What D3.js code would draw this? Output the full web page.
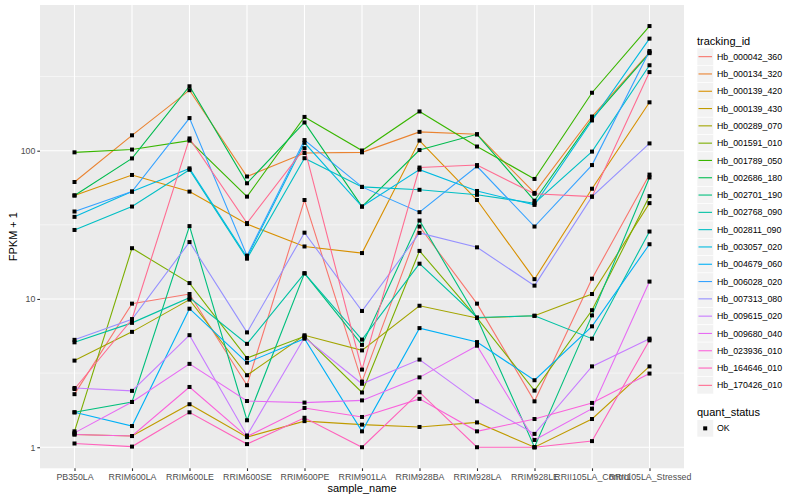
<!DOCTYPE html>
<html>
<head>
<meta charset="utf-8">
<script src="https://cdn.jsdelivr.net/npm/d3@7"></script>
<style>
  body { margin: 0; background: #fff; }
  text { font-family: "Liberation Sans", Arial, Helvetica, sans-serif; }
</style>
</head>
<body>
<svg id="chart" width="800" height="500"></svg>
<script>
// sample names along x
var samples = ['PB350LA', 'RRIM600LA', 'RRIM600LE', 'RRIM600SE', 'RRIM600PE', 'RRIM901LA',
  'RRIM928BA', 'RRIM928LA', 'RRIM928LE', 'RRII105LA_Control', 'RRII105LA_Stressed'];

// FPKM + 1 per gene, one value per sample
var hb_000042_360 = [2.28, 9.3, 10.8, 2.62, 46.5, 2.77, 30.8, 9.3, 2.04, 13.7, 69];
var hb_000134_320 = [61.5, 127, 256, 67, 96.5, 97.5, 134, 129, 51.9, 170, 460];
var hb_000139_420 = [49.9, 68.6, 53, 32, 22.6, 20.4, 117, 46.5, 13.6, 55.4, 212];
var hb_000139_430 = [1.22, 1.19, 1.95, 1.17, 1.5, 1.42, 1.37, 1.47, 1.0, 1.55, 3.51];
var hb_000289_070 = [3.84, 6.0, 9.9, 3.06, 5.69, 4.5, 9.0, 7.45, 7.7, 10.8, 44.3];
var hb_001591_010 = [1.28, 22, 12.8, 4.0, 5.6, 2.34, 21.1, 7.45, 2.41, 8.4, 49.4];
var hb_001789_050 = [97.5, 101.8, 117, 49, 169, 100.3, 184, 106.7, 64.5, 246, 693];
var hb_002686_180 = [49.9, 88.7, 272, 60.3, 155, 42, 101, 129, 46, 164, 455];
var hb_002701_190 = [1.72, 2.02, 31, 1.52, 14.9, 4.9, 33.8, 7.45, 1.0, 7.75, 66];
var hb_002768_090 = [5.1, 6.9, 10.2, 4.98, 14.9, 5.32, 17.3, 7.5, 7.7, 5.4, 28.5];
var hb_002811_090 = [29.2, 42, 74.4, 18.7, 89, 57, 54.5, 50.4, 44.2, 98.6, 377];
var hb_003057_020 = [35.8, 53, 76, 19.1, 113, 42, 74.5, 53.5, 43.1, 160, 570];
var hb_004679_060 = [1.72, 1.39, 8.6, 3.72, 5.4, 1.28, 6.36, 5.12, 2.83, 6.54, 23.4];
var hb_006028_020 = [38.9, 53, 166, 19.6, 118, 57, 38.5, 78.5, 30.8, 80, 470];
var hb_007313_080 = [5.3, 7.3, 24.2, 5.95, 28, 8.3, 27.9, 22.3, 12.3, 49, 112];
var hb_009615_020 = [2.51, 2.4, 5.7, 1.2, 5.5, 2.68, 3.9, 2.04, 1.23, 3.51, 5.4];
var hb_009680_040 = [1.25, 2.02, 3.65, 2.05, 2.0, 2.07, 2.96, 4.84, 1.12, 1.82, 13.1];
var hb_023936_010 = [1.22, 1.19, 2.55, 1.18, 1.84, 1.6, 2.12, 1.28, 1.55, 1.99, 3.14];
var hb_164646_010 = [1.06, 1.01, 1.72, 1.05, 1.58, 1.0, 2.35, 1.0, 1.0, 1.1, 5.26];
var hb_170426_010 = [2.47, 7.3, 121, 32.5, 104, 3.34, 77, 80, 51.2, 49, 339];

var trackingIds = ['Hb_000042_360', 'Hb_000134_320', 'Hb_000139_420', 'Hb_000139_430', 'Hb_000289_070',
  'Hb_001591_010', 'Hb_001789_050', 'Hb_002686_180', 'Hb_002701_190', 'Hb_002768_090',
  'Hb_002811_090', 'Hb_003057_020', 'Hb_004679_060', 'Hb_006028_020', 'Hb_007313_080',
  'Hb_009615_020', 'Hb_009680_040', 'Hb_023936_010', 'Hb_164646_010', 'Hb_170426_010'];

var seriesValues = [hb_000042_360, hb_000134_320, hb_000139_420, hb_000139_430, hb_000289_070,
  hb_001591_010, hb_001789_050, hb_002686_180, hb_002701_190, hb_002768_090,
  hb_002811_090, hb_003057_020, hb_004679_060, hb_006028_020, hb_007313_080,
  hb_009615_020, hb_009680_040, hb_023936_010, hb_164646_010, hb_170426_010];

var yTicks = [1, 10, 100];
var yMinor = [Math.pow(10, 0.5), Math.pow(10, 1.5), Math.pow(10, 2.5)];
var quantStatus = ['OK'];

// ggplot default hue palette for 20 levels
var palette = ['#F8766D', '#EA8331', '#D89000', '#C09B00', '#A3A500', '#7CAE00', '#39B600', '#00BB4E',
  '#00BF7D', '#00C1A3', '#00BFC4', '#00BAE0', '#00B0F6', '#35A2FF', '#9590FF', '#C77CFF',
  '#E76BF3', '#FA62DB', '#FF62BC', '#FF6C91'];

var panel = { left: 40, right: 684, top: 5, bottom: 468.3 };

var svg = d3.select('#chart');

var x = d3.scalePoint()
  .domain(samples)
  .range([panel.left, panel.right])
  .padding(0.6);

var y = d3.scaleLog()
  .domain([0.721, 961])
  .range([panel.bottom, panel.top]);

var color = d3.scaleOrdinal().domain(trackingIds).range(palette);

// panel background + grid
svg.append('rect')
  .attr('x', panel.left).attr('y', panel.top)
  .attr('width', panel.right - panel.left).attr('height', panel.bottom - panel.top)
  .attr('fill', '#EBEBEB');

svg.append('g').selectAll('line')
  .data(yMinor)
  .enter().append('line')
    .attr('x1', panel.left).attr('x2', panel.right)
    .attr('y1', function(d) { return y(d); }).attr('y2', function(d) { return y(d); })
    .attr('stroke', '#fff').attr('stroke-width', 0.55);

svg.append('g').selectAll('line')
  .data(yTicks)
  .enter().append('line')
    .attr('x1', panel.left).attr('x2', panel.right)
    .attr('y1', function(d) { return y(d); }).attr('y2', function(d) { return y(d); })
    .attr('stroke', '#fff').attr('stroke-width', 1.1);

svg.append('g').selectAll('line')
  .data(samples)
  .enter().append('line')
    .attr('x1', function(d) { return x(d); }).attr('x2', function(d) { return x(d); })
    .attr('y1', panel.top).attr('y2', panel.bottom)
    .attr('stroke', '#fff').attr('stroke-width', 1.1);

// lines
var line = d3.line()
  .x(function(d, i) { return x(samples[i]); })
  .y(function(d) { return y(d); });

svg.append('g').selectAll('path')
  .data(seriesValues)
  .enter().append('path')
    .attr('d', line)
    .attr('fill', 'none')
    .attr('stroke', function(d, i) { return color(trackingIds[i]); })
    .attr('stroke-width', 1.1);

// points
var pts = [];
seriesValues.forEach(function(vals) {
  vals.forEach(function(v, i) { pts.push({ s: samples[i], v: v }); });
});

svg.append('g').selectAll('rect')
  .data(pts)
  .enter().append('rect')
    .attr('x', function(d) { return x(d.s) - 2; })
    .attr('y', function(d) { return y(d.v) - 2; })
    .attr('width', 4).attr('height', 4)
    .attr('fill', '#000');

// axes
var yAxis = svg.append('g')
  .attr('transform', 'translate(' + panel.left + ',0)')
  .call(d3.axisLeft(y).tickValues(yTicks).tickFormat(d3.format('d')).tickSize(2.7).tickPadding(2));

var xAxis = svg.append('g')
  .attr('transform', 'translate(0,' + panel.bottom + ')')
  .call(d3.axisBottom(x).tickSize(2.7).tickPadding(2.5));

[yAxis, xAxis].forEach(function(ax) {
  ax.select('.domain').remove();
  ax.selectAll('line').attr('stroke', '#333333').attr('stroke-width', 1.1);
  ax.selectAll('text').attr('fill', '#4D4D4D').style('font-size', '8.8px')
    .style('font-family', '"Liberation Sans", Arial, sans-serif');
});

svg.append('text')
  .attr('x', (panel.left + panel.right) / 2).attr('y', 492)
  .attr('text-anchor', 'middle')
  .style('font-size', '11px').attr('fill', '#000')
  .text('sample_name');

svg.append('text')
  .attr('transform', 'translate(17,' + (panel.top + panel.bottom) / 2 + ') rotate(-90)')
  .attr('text-anchor', 'middle')
  .style('font-size', '11px').attr('fill', '#000')
  .text('FPKM + 1');

// legend: tracking_id
var keyH = 17.3, keyX = 697, legTop = 48;

svg.append('text')
  .attr('x', keyX).attr('y', 44.5)
  .style('font-size', '11px')
  .text('tracking_id');

var leg = svg.append('g').selectAll('g')
  .data(trackingIds)
  .enter().append('g')
    .attr('transform', function(d, i) { return 'translate(' + keyX + ',' + (legTop + i * keyH) + ')'; });

leg.append('rect')
  .attr('width', 16.5).attr('height', keyH)
  .attr('fill', '#F2F2F2').attr('stroke', '#fff').attr('stroke-width', 0.6);

leg.append('line')
  .attr('x1', 1.5).attr('x2', 15)
  .attr('y1', keyH / 2).attr('y2', keyH / 2)
  .attr('stroke', function(d) { return color(d); })
  .attr('stroke-width', 1.1);

leg.append('text')
  .attr('x', 20).attr('y', keyH / 2 + 3.1)
  .style('font-size', '8.8px')
  .text(function(d) { return d; });

// legend: quant_status
svg.append('text')
  .attr('x', keyX).attr('y', 415.5)
  .style('font-size', '11px')
  .text('quant_status');

var leg2 = svg.append('g').selectAll('g')
  .data(quantStatus)
  .enter().append('g')
    .attr('transform', function(d, i) { return 'translate(' + keyX + ',' + (419.7 + i * keyH) + ')'; });

leg2.append('rect')
  .attr('width', 16.5).attr('height', keyH)
  .attr('fill', '#F2F2F2').attr('stroke', '#fff').attr('stroke-width', 0.6);

leg2.append('rect')
  .attr('x', 6.2).attr('y', keyH / 2 - 2)
  .attr('width', 4).attr('height', 4)
  .attr('fill', '#000');

leg2.append('text')
  .attr('x', 20).attr('y', keyH / 2 + 3.1)
  .style('font-size', '8.8px')
  .text(function(d) { return d; });
</script>
</body>
</html>
